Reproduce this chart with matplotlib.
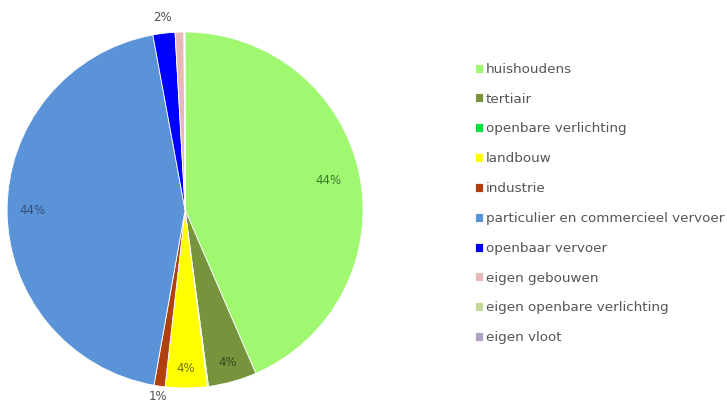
import matplotlib
matplotlib.use('Agg')
import matplotlib.pyplot as plt
import numpy as np

plt.rcParams['font.family'] = ['DejaVu Sans']

labels = ['huishoudens', 'tertiair', 'openbare verlichting', 'landbouw', 'industrie',
          'particulier en commercieel vervoer', 'openbaar vervoer', 'eigen gebouwen',
          'eigen openbare verlichting', 'eigen vloot']
values = [43.5, 4.4, 0.1, 3.8, 1.0, 44.3, 2.0, 0.8, 0.05, 0.05]
colors = ['#A0F870', '#77933C', '#00E040', '#FFFF00', '#B0400F',
          '#5B93D8', '#0000FF', '#E6B9B8', '#C4D79B', '#B3A2C7']
shown = ['44%', '4%', '', '4%', '1%', '44%', '2%', '', '', '']
label_r = [0.82, 0.89, 0, 0.89, 1.06, 0.86, 1.09, 0, 0, 0]
label_col = ['#3A7A2A', '#3A4520', '', '#6E6E10', '#505050', '#34507A', '#505050', '', '', '']

fig = plt.figure(figsize=(7.27, 4.05), dpi=100)
ax = fig.add_axes([0.0096, 0.042, 0.49, 0.879])

wedges, _ = ax.pie(values, colors=colors, startangle=90, counterclock=False,
                   wedgeprops=dict(edgecolor='white', linewidth=0.6))

for w, txt, r, c in zip(wedges, shown, label_r, label_col):
    if not txt:
        continue
    ang = np.deg2rad((w.theta1 + w.theta2) / 2)
    ax.text(r * np.cos(ang), r * np.sin(ang), txt, ha='center', va='center',
            fontsize=8.5, color=c)
ax.set_aspect('equal')
ax.set_xlim(-1, 1)
ax.set_ylim(-1, 1)
ax.axis('off')

fig.legend(wedges, labels, loc='upper left', bbox_to_anchor=(468 / 727, 1 - 56 / 405),
           frameon=False, fontsize=9.7, labelcolor='#555555', handlelength=0.65,
           handleheight=0.65, handletextpad=0.15, labelspacing=1.25, borderpad=0)

fig.savefig('out.png', dpi=100)
